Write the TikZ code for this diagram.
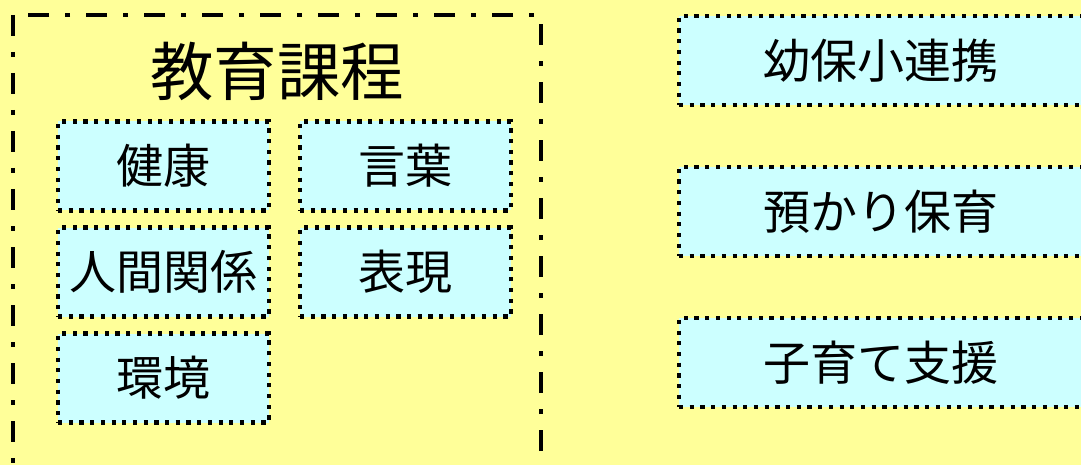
\documentclass[tikz,border=0pt]{standalone}
\usepackage{fontspec}
\newfontfamily\jp{Noto Sans CJK JP}
\definecolor{bgyellow}{HTML}{FFFF99}
\definecolor{boxcyan}{HTML}{CCFFFF}
\begin{document}
\begin{tikzpicture}[x=1pt,y=-1pt,
  box/.style={draw=black, fill=boxcyan, line width=4.2pt, dash pattern=on 4.2pt off 6.5pt,
    minimum width=211pt, minimum height=89pt, inner sep=0pt,
    font=\jp\fontsize{47}{52}\selectfont},
  widebox/.style={box, minimum width=404pt},
  outerframe/.style={draw=black, line width=4.5pt, dash pattern=on 21pt off 16pt on 5pt off 16pt},
  title/.style={font=\jp\fontsize{63.5}{70}\selectfont, inner sep=0pt}]
\path[use as bounding box, fill=bgyellow] (0,0) rectangle (1081,465);
\clip (0,0) rectangle (1081,465);
\draw[outerframe] (13,15) rectangle (541,520);
\node[title] (curriculum) at (277,71) {教育課程};
\node[box] (kenko) at (163.5,166) {健康};
\node[box] (kotoba) at (405.5,166) {言葉};
\node[box] (ningen) at (163.5,272) {人間関係};
\node[box] (hyogen) at (405.5,272) {表現};
\node[box] (kankyo) at (163.5,378) {環境};
\node[widebox] (renkei) at (881,60.5) {幼保小連携};
\node[widebox] (azukari) at (881,211.5) {預かり保育};
\node[widebox] (kosodate) at (881,362.5) {子育て支援};
\end{tikzpicture}
\end{document}
